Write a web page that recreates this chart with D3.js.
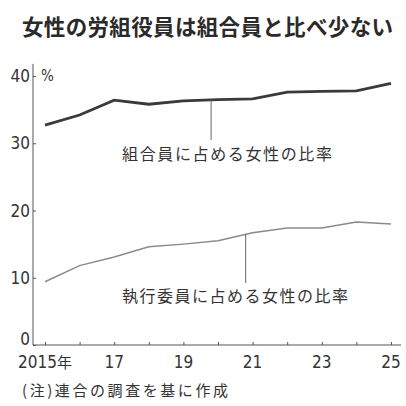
<!DOCTYPE html>
<html><head><meta charset="utf-8">
<script src="https://cdn.jsdelivr.net/npm/d3@7/dist/d3.min.js"></script>
<style>
html,body{margin:0;padding:0;background:#fff;}
svg{display:block;}
</style></head>
<body>
<script>
const years = [2015,2016,2017,2018,2019,2020,2021,2022,2023,2024,2025];
const members = [32.7,34.2,36.4,35.8,36.3,36.5,36.6,37.6,37.7,37.8,38.9];
const executives = [9.4,11.8,13.1,14.6,15.0,15.5,16.7,17.4,17.4,18.3,18.0];
const yTicks = [0,10,20,30,40];
const xTickLabels = ["2015年","17","19","21","23","25"];
const xLabelYears = [2015,2017,2019,2021,2023,2025];
const title = "女性の労組役員は組合員と比べ少ない";
const note = "(注)連合の調査を基に作成";
const label1 = "組合員に占める女性の比率";
const label2 = "執行委員に占める女性の比率";

const W=406,H=406;
const svg = d3.select("body").append("svg").attr("width",W).attr("height",H);
const jp = "'Noto Sans CJK JP','Noto Sans',sans-serif";
const num = "'Liberation Sans Narrow','DejaVu Sans Condensed','Liberation Sans',sans-serif";
const ink = "#333";

svg.append("text").attr("x",22).attr("y",35).text(title)
  .attr("font-family",jp).attr("font-weight","bold").attr("font-size",21.5)
  .attr("fill","#2a2a2a").attr("textLength",371).attr("lengthAdjust","spacing");

const x = d3.scaleLinear().domain([2015,2025]).range([45,391]);
const y = d3.scaleLinear().domain([0,40]).range([345,76]);

// y axis
const yAxis = d3.axisRight(y).tickValues(yTicks).tickSize(3).tickFormat("");
const gy = svg.append("g").attr("transform","translate(33,0)").call(yAxis);
gy.select(".domain").attr("d",`M0,${y(41.8)}V${y(0)}`).attr("stroke","#555");
gy.selectAll(".tick line").attr("stroke","#555");
svg.selectAll(".ylab").data(yTicks).enter().append("text")
  .attr("x",30).attr("y",d=>d===0?y(d)-6:y(d)).attr("dy","0.36em").attr("text-anchor","end")
  .attr("font-family",num).attr("font-size",17).attr("fill",ink).text(d=>d);
svg.append("text").attr("x",41).attr("y",y(40)).attr("dy","0.36em")
  .attr("font-family",num).attr("font-size",15).attr("fill",ink).text("%");

// x axis
const xAxis = d3.axisTop(x).tickValues(years).tickSize(3).tickFormat("");
const gx = svg.append("g").attr("transform",`translate(0,${y(0)})`).call(xAxis);
gx.select(".domain").attr("d",`M33,0H401`).attr("stroke","#555");
gx.selectAll(".tick line").attr("stroke","#555");
svg.selectAll(".xlab").data(xLabelYears).enter().append("text")
  .attr("x",d=>x(d)).attr("y",368).attr("text-anchor","middle")
  .attr("font-family",num).attr("font-size",17).attr("fill",ink)
  .each(function(d,i){
    const t=d3.select(this);
    const lab=xTickLabels[i];
    if(lab.endsWith("年")){
      t.append("tspan").text(lab.slice(0,-1));
      t.append("tspan").attr("font-family",jp).attr("font-size",15).text("年");
    } else t.text(lab);
  });

const line = d3.line().x((d,i)=>x(years[i])).y(d=>y(d));
svg.append("path").datum(members).attr("d",line).attr("fill","none")
  .attr("stroke","#3a3a3a").attr("stroke-width",2.8);
svg.append("path").datum(executives).attr("d",line).attr("fill","none")
  .attr("stroke","#8a8a8a").attr("stroke-width",1.5);

// leader lines
const lx1 = 2019.8, lx2 = 2020.8;
svg.append("line").attr("x1",x(lx1)).attr("x2",x(lx1))
  .attr("y1",y(36.5)).attr("y2",140).attr("stroke","#666").attr("stroke-width",1);
svg.append("line").attr("x1",x(lx2)).attr("x2",x(lx2))
  .attr("y1",y(16.5)).attr("y2",283).attr("stroke","#666").attr("stroke-width",1);

svg.append("text").attr("x",122).attr("y",160).text(label1)
  .attr("font-family",jp).attr("font-size",16).attr("fill",ink)
  .attr("textLength",210).attr("lengthAdjust","spacing");
svg.append("text").attr("x",122).attr("y",302).text(label2)
  .attr("font-family",jp).attr("font-size",16).attr("fill",ink)
  .attr("textLength",226).attr("lengthAdjust","spacing");

svg.append("text").attr("x",22).attr("y",396).text(note)
  .attr("font-family",jp).attr("font-size",15).attr("fill",ink)
  .attr("textLength",206).attr("lengthAdjust","spacing");
</script>
</body></html>
